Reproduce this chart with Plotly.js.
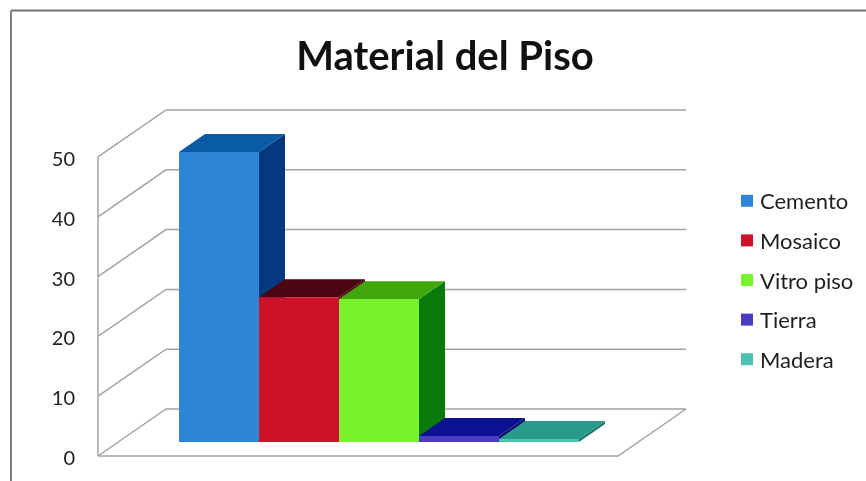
<!DOCTYPE html>
<html>
<head>
<meta charset="utf-8">
<script src="https://cdn.plot.ly/plotly-3.0.1.min.js"></script>
<style>html,body{margin:0;padding:0;background:#fff;overflow:hidden}#gd{width:866px;height:481px;filter:blur(0.7px)}</style>
</head>
<body>
<div id="gd"></div>
<script>
const categories = ["Cemento", "Mosaico", "Vitro piso", "Tierra", "Madera"];
const values = [48.5, 24.2, 23.9, 1, 0.5];
const positions = [1, 2, 3, 4, 5];
const frontColors = ["#2f86d6", "#cf1029", "#78f22c", "#4a3cc0", "#4cc3b2"];
const topColors = ["#0a5aa6", "#4a0611", "#41a80c", "#0b1190", "#2a9a8b"];
const sideColors = ["#06387f", "#5a0610", "#0b7a0d", "#0a0d70", "#1c7a6e"];
const tickValues = [0, 10, 20, 30, 40, 50];

// oblique-projection settings, in axis units
const wallLeft = -0.5125, wallRight = 5.9875;
const wallDx = 0.85, wallDy = 7.86;
const barDx = 0.325, barDy = 3.0;
const floorBase = 2.34;
const xRange = [-0.525, 7.0125], yRange = [-2.341, 59.53];

const gridX = [], gridY = [];
tickValues.forEach(v => {
  gridX.push(wallLeft, wallLeft + wallDx, wallRight + wallDx, null);
  gridY.push(v, v + wallDy, v + wallDy, null);
});
gridX.push(wallLeft, wallLeft, null, wallLeft, wallRight, wallRight + wallDx);
gridY.push(0, 50, null, 0, 0, wallDy);

const traces = [{
  type: "scatter", mode: "lines", x: gridX, y: gridY, showlegend: false, hoverinfo: "skip",
  line: {color: "#a0a5a0", width: 1.5}
}];

categories.forEach((c, i) => {
  const l = positions[i] - 0.5, r = positions[i] + 0.5;
  const t = floorBase + values[i], b = floorBase;
  traces.push({
    type: "scatter", mode: "lines", fill: "toself", fillcolor: sideColors[i],
    line: {width: 0}, showlegend: false, hoverinfo: "skip",
    x: [r, r + barDx, r + barDx, r, r], y: [b, b + barDy, t + barDy, t, b]
  });
  traces.push({
    type: "scatter", mode: "lines", fill: "toself", fillcolor: topColors[i],
    line: {width: 0}, showlegend: false, hoverinfo: "skip",
    x: [l, l + barDx, r + barDx, r, l], y: [t, t + barDy, t + barDy, t, t]
  });
});

categories.forEach((c, i) => {
  traces.push({
    type: "bar", name: c, legendgroup: c, x: [positions[i]], y: [values[i]], base: [floorBase],
    width: [1], marker: {color: frontColors[i], line: {width: 0}},
    xaxis: "x2", yaxis: "y2"
  });
});

const plotW = 603, plotH = 370, plotL = 97, plotT = 100;
const px = v => (v - plotL) / plotW;
const py = v => (plotT + plotH - v) / plotH;

const layout = {
  width: 866, height: 481,
  margin: {l: plotL, r: 166, t: plotT, b: 11, pad: 0, autoexpand: false},
  paper_bgcolor: "#ffffff", plot_bgcolor: "rgba(0,0,0,0)",
  barmode: "overlay",
  title: {
    text: "<b>Material del Piso</b>", x: 445 / 866, xref: "container", xanchor: "center",
    y: 1 - 56 / 481, yref: "container", yanchor: "middle",
    font: {family: "Lato", size: 40, color: "#111111"}
  },
  xaxis: {range: xRange, visible: false, fixedrange: true},
  yaxis: {
    range: yRange, tickmode: "array", tickvals: tickValues, showgrid: false, zeroline: false,
    showline: false, ticks: "", ticklabelstandoff: 21, ticklabelshift: 2,
    tickfont: {family: "Lato", size: 20, color: "#222222"}, fixedrange: true
  },
  xaxis2: {range: xRange, overlaying: "x", visible: false, fixedrange: true},
  yaxis2: {range: yRange, overlaying: "y", visible: false, fixedrange: true},
  legend: {
    x: px(720), xanchor: "left", y: py(180), yanchor: "top",
    font: {family: "Lato", size: 22, color: "#1f1f1f"},
    traceorder: "grouped", tracegroupgap: 8, bgcolor: "rgba(0,0,0,0)"
  },
  shapes: [
    {type: "line", xref: "paper", yref: "paper", x0: px(11), x1: px(866), y0: py(10.5), y1: py(10.5), line: {color: "#6f7472", width: 2}},
    {type: "line", xref: "paper", yref: "paper", x0: px(11), x1: px(11), y0: py(10.5), y1: py(481), line: {color: "#7d8280", width: 2}}
  ]
};

Plotly.newPlot("gd", traces, layout, {displayModeBar: false, responsive: false}).then(() => {
  document.querySelectorAll("#gd .legendsymbols").forEach(g => g.setAttribute("transform", "translate(7,0)"));
});
</script>
</body>
</html>
